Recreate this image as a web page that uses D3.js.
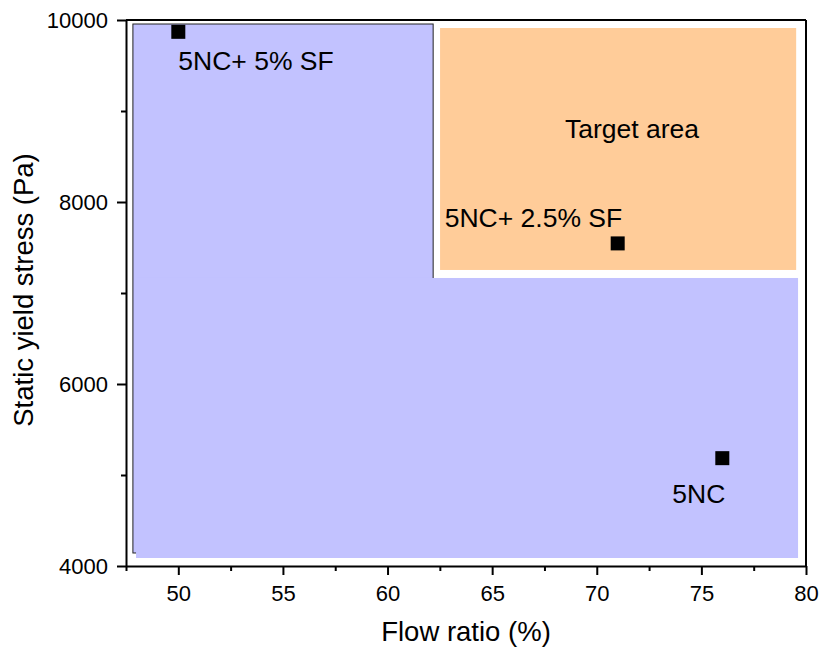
<!DOCTYPE html>
<html>
<head>
<meta charset="utf-8">
<script src="https://cdn.jsdelivr.net/npm/d3@7"></script>
<style>
  html, body { margin: 0; padding: 0; background: #fff; }
  text { font-family: Arial, "Liberation Sans", sans-serif; fill: #000; }
</style>
</head>
<body>
<svg id="chart" width="822" height="650"></svg>
<script>
// Mixes and their measured values
const mixes = ["5NC+ 5% SF", "5NC+ 2.5% SF", "5NC"];
const flowRatio = [50, 71, 76];
const yieldStress = [9870, 7545, 5185];

// Shaded regions in data units: [xMin, xMax, yMin, yMax]
const lowStiffArea = [47.83, 62.18, 4143, 9956];
const lowFlowArea = [47.98, 79.62, 4088, 7165];
const targetArea = [62.51, 79.53, 7253, 9912];

// Axis ticks
const xTicks = [50, 55, 60, 65, 70, 75, 80];
const xMinor = [47.5, 52.5, 57.5, 62.5, 67.5, 72.5, 77.5];
const yTicks = [4000, 6000, 8000, 10000];
const yMinor = [5000, 7000, 9000];

const svg = d3.select("#chart");
const plotL = 126, plotR = 806, plotT = 20, plotB = 566;
const font = "Arial, 'Liberation Sans', sans-serif";

const x = d3.scaleLinear().domain([47.5, 80]).range([plotL, plotR]);
const y = d3.scaleLinear().domain([4000, 10000]).range([plotB, plotT]);

function rectOf(a) {
  return { x: x(a[0]), y: y(a[3]), w: x(a[1]) - x(a[0]), h: y(a[2]) - y(a[3]) };
}

// Shaded regions
const r1 = rectOf(lowStiffArea);
svg.append("rect").attr("x", r1.x).attr("y", r1.y).attr("width", r1.w).attr("height", r1.h)
  .attr("fill", "#C2C2FF").attr("stroke", "#222").attr("stroke-width", 1);
const r2 = rectOf(lowFlowArea);
svg.append("rect").attr("x", r2.x).attr("y", r2.y).attr("width", r2.w).attr("height", r2.h)
  .attr("fill", "#C2C2FF");
const r3 = rectOf(targetArea);
svg.append("rect").attr("x", r3.x).attr("y", r3.y).attr("width", r3.w).attr("height", r3.h)
  .attr("fill", "#FFCC99");

// Frame (top and right)
svg.append("line").attr("x1", plotL).attr("x2", plotR).attr("y1", plotT).attr("y2", plotT)
  .attr("stroke", "#000").attr("stroke-width", 2);
svg.append("line").attr("x1", plotR).attr("x2", plotR).attr("y1", plotT).attr("y2", plotB)
  .attr("stroke", "#000").attr("stroke-width", 2);

// Axes
const fmt = d3.format("d");
svg.append("g").attr("transform", `translate(0,${plotB})`)
  .call(d3.axisBottom(x).tickValues(xTicks).tickFormat(fmt).tickSize(9).tickPadding(10).tickSizeOuter(0));
svg.append("g").attr("transform", `translate(0,${plotB})`)
  .call(d3.axisBottom(x).tickValues(xMinor).tickSize(5).tickFormat("").tickSizeOuter(0))
  .select(".domain").remove();
svg.append("g").attr("transform", `translate(${plotL},0)`)
  .call(d3.axisLeft(y).tickValues(yTicks).tickFormat(fmt).tickSize(9).tickPadding(9).tickSizeOuter(0));
svg.append("g").attr("transform", `translate(${plotL},0)`)
  .call(d3.axisLeft(y).tickValues(yMinor).tickSize(5).tickFormat("").tickSizeOuter(0))
  .select(".domain").remove();

svg.selectAll(".domain").attr("stroke-width", 2).attr("stroke", "#000");
svg.selectAll(".tick line").attr("stroke-width", 2).attr("stroke", "#000");
svg.selectAll(".tick text").attr("font-size", 22).style("font-family", font);

// Axis titles
svg.append("text").attr("x", (plotL + plotR) / 2).attr("y", 641)
  .attr("text-anchor", "middle").attr("font-size", 27.5).text("Flow ratio (%)");
svg.append("text").attr("transform", `translate(33,${(plotT + plotB) / 2 - 3}) rotate(-90)`)
  .attr("text-anchor", "middle").attr("font-size", 27.5).text("Static yield stress (Pa)");

// Data markers
const sz = 14;
svg.selectAll("rect.pt").data(mixes).enter().append("rect").attr("class", "pt")
  .attr("x", (d, i) => x(flowRatio[i]) - sz / 2)
  .attr("y", (d, i) => y(yieldStress[i]) - sz / 2)
  .attr("width", sz).attr("height", sz).attr("fill", "#000");

// Point labels
const labelOffsets = [[0, 38], [-173, -16], [-50, 45]];
svg.selectAll("text.lbl").data(mixes).enter().append("text").attr("class", "lbl")
  .attr("x", (d, i) => x(flowRatio[i]) + labelOffsets[i][0])
  .attr("y", (d, i) => y(yieldStress[i]) + labelOffsets[i][1])
  .attr("font-size", 26.5).text(d => d);

svg.append("text").attr("x", 632).attr("y", 138)
  .attr("text-anchor", "middle").attr("font-size", 26.5).text("Target area");
</script>
</body>
</html>
